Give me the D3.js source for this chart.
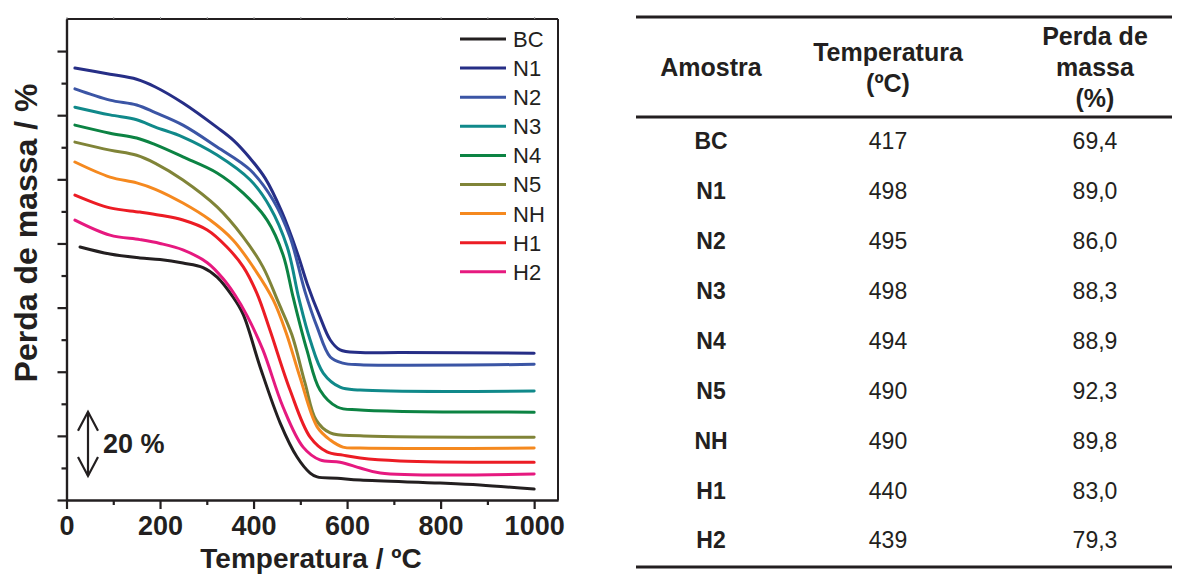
<!DOCTYPE html>
<html>
<head>
<meta charset="utf-8">
<script src="https://cdn.jsdelivr.net/npm/d3@7"></script>
<style>
  body { margin: 0; background: #fff; }
  svg { display: block; font-family: "Liberation Sans", Arial, sans-serif; }
  .ax path, .ax line { stroke: #231f20; stroke-width: 2.2; }
  .ax text { font-size: 27px; font-weight: bold; fill: #231f20; font-family: "Liberation Sans", Arial, sans-serif; }
</style>
</head>
<body>
<div id="chart"></div>
<script>
// TG curves: [temperature ºC, offset mass %]
const curveBC = [[29,78.9],[93,76.7],[157,75.5],[200,75.0],[249,73.9],[292,72.5],[322,69.5],[356,63.3],[378,57.8],[414,41.5],[457,24.0],[493,13.4],[521,8.4],[536,7.2],[579,6.8],[628,6.2],[799,5.3],[884,4.7],[1000,3.4]]
const curveN1 = [[18,134.7],[93,132.8],[150,131.2],[190,128.8],[249,123.8],[322,116.2],[356,112.3],[393,106.5],[425,100.3],[460,90],[493,77.3],[515,67.3],[542,57.1],[564,49.9],[585,46.8],[628,46.0],[713,46.0],[1000,45.8]]
const curveN2 = [[18,128.2],[93,124.7],[150,123.2],[190,120.8],[249,116.9],[322,110.1],[393,102.9],[442,93.5],[478,82.0],[510,65],[536,53.9],[564,44.6],[591,42.7],[628,42.2],[1000,42.3]]
const curveN3 = [[18,122.5],[93,120.1],[150,118.6],[190,116.3],[249,113.2],[322,107.6],[393,99.8],[435,91.4],[472,78.9],[497,62.8],[521,49.9],[549,39.6],[585,35.2],[628,34.3],[1000,34.0]]
const curveN4 = [[18,116.9],[93,114.4],[150,112.9],[190,110.8],[249,107.0],[322,102.0],[378,95.7],[429,87.3],[463,76.5],[485,63],[514,46.8],[542,34.3],[579,29.0],[628,28.1],[1000,27.4]]
const curveN5 = [[18,111.6],[93,109.1],[150,107.5],[190,105.0],[249,99.8],[322,91.4],[378,82.0],[420,72.7],[452,62.0],[482,51.5],[510,36.5],[534,24.9],[564,20.9],[628,20.0],[1000,19.6]]
const curveNH = [[18,105.4],[93,100.7],[150,98.9],[190,96.9],[249,92.6],[307,87.3],[356,81.1],[399,72.7],[442,62.4],[470,52],[499,38.4],[536,22.8],[564,18.7],[591,16.5],[628,16.2],[1000,16.2]]
const curveH1 = [[18,95.1],[93,91.1],[157,89.8],[200,88.8],[249,87.3],[301,84.2],[343,78.9],[378,72.7],[407,64.5],[435,53.0],[478,34.3],[521,19.6],[557,15.0],[591,14.0],[628,13.1],[713,12.2],[1000,11.8]]
const curveH2 = [[18,87.3],[93,82.6],[157,81.2],[200,80.0],[249,78.0],[301,74],[335,69],[360,64],[386,57.5],[420,46.8],[463,29.0],[506,16.5],[542,12.5],[585,11.8],[628,10.0],[671,8.4],[1000,8.1]]

const sampleNames = ["BC", "N1", "N2", "N3", "N4", "N5", "NH", "H1", "H2"]
const curves = [curveBC, curveN1, curveN2, curveN3, curveN4, curveN5, curveNH, curveH1, curveH2]
const colors = ["#231f20", "#262e86", "#3b55a5", "#10898a", "#0c8343", "#808438", "#f5891f", "#ec1c24", "#e6197f"]

const xMajor = [0, 200, 400, 600, 800, 1000]
const xMinor = [100, 300, 500, 700, 900]
const yMajor = [0, 20, 40, 60, 80, 100, 120, 140]
const yMinor = [10, 30, 50, 70, 90, 110, 130]

// table
const tableHeaders = [["Amostra"], ["Temperatura", "(ºC)"], ["Perda de", "massa", "(%)"]]
const tableTemps = [417, 498, 495, 498, 494, 490, 490, 440, 439]
const tableLoss = [69.4, 89.0, 86.0, 88.3, 88.9, 92.3, 89.8, 83.0, 79.3]

const W = 1185, H = 574
const svg = d3.select('#chart').append('svg')
  .attr('width', W)
  .attr('height', H)

const pLeft = 66.5, pRight = 558, pTop = 19, pBottom = 500

let x = d3.scaleLinear().domain([0, 1051]).range([pLeft, pRight])
let y = d3.scaleLinear().domain([0, 150]).range([pBottom, pTop])

// frame top / right
svg.append('line').attr('x1', pLeft).attr('x2', pRight).attr('y1', pTop).attr('y2', pTop)
  .attr('stroke', '#231f20').attr('stroke-width', 2)
svg.append('line').attr('x1', pRight).attr('x2', pRight).attr('y1', pTop).attr('y2', pBottom)
  .attr('stroke', '#231f20').attr('stroke-width', 2)

svg.append('g').attr('transform', `translate(0,${pTop})`)
  .call(d3.axisTop(x).tickValues(xMajor.concat(xMinor)).tickSize(2).tickSizeOuter(0).tickFormat(''))
  .call(g => g.selectAll('line').attr('stroke', '#9a9a9a').attr('stroke-width', 1))
  .call(g => g.select('.domain').remove())

// bottom axis
svg.append('g').attr('class', 'ax').attr('transform', `translate(0,${pBottom})`)
  .call(d3.axisBottom(x).tickValues(xMajor).tickSize(9).tickPadding(7).tickSizeOuter(0).tickFormat(d3.format('d')))
svg.append('g').attr('class', 'ax').attr('transform', `translate(0,${pBottom})`)
  .call(d3.axisBottom(x).tickValues(xMinor).tickSize(5).tickSizeOuter(0).tickFormat(''))

// left axis (no labels)
svg.append('g').attr('class', 'ax').attr('transform', `translate(${pLeft},0)`)
  .call(d3.axisLeft(y).tickValues(yMajor).tickSize(9).tickSizeOuter(0).tickFormat(''))
svg.append('g').attr('class', 'ax').attr('transform', `translate(${pLeft},0)`)
  .call(d3.axisLeft(y).tickValues(yMinor).tickSize(5).tickSizeOuter(0).tickFormat(''))

let line = d3.line()
  .x(d => x(d[0]))
  .y(d => y(d[1]))
  .curve(d3.curveCatmullRom.alpha(0.5))

svg.append('g').selectAll('path')
  .data(curves)
  .enter()
  .append('path')
  .attr('d', line)
  .attr('fill', 'none')
  .attr('stroke', (d, i) => colors[i])
  .attr('stroke-width', 3)
  .attr('stroke-linejoin', 'round')
  .attr('stroke-linecap', 'round')

// legend
let legend = svg.append('g').selectAll('g')
  .data(sampleNames)
  .enter()
  .append('g')
  .attr('transform', (d, i) => `translate(460,${39 + i * 29.1})`)

legend.append('line')
  .attr('x1', 0).attr('x2', 46)
  .attr('stroke', (d, i) => colors[i])
  .attr('stroke-width', 3)

legend.append('text')
  .attr('x', 53)
  .attr('dy', '0.36em')
  .attr('font-size', 22)
  .attr('fill', '#231f20')
  .text(d => d)

// 20 % scale bar
let ax = 88, y1 = y(27.5), y2 = y(7.5)
let bar = svg.append('g').attr('stroke', '#231f20').attr('stroke-width', 2.2).attr('fill', 'none')
bar.append('line').attr('x1', ax).attr('x2', ax).attr('y1', y1).attr('y2', y2)
bar.append('path').attr('d', `M${ax - 10},${y1 + 19}L${ax},${y1}L${ax + 10},${y1 + 19}`)
bar.append('path').attr('d', `M${ax - 10},${y2 - 19}L${ax},${y2}L${ax + 10},${y2 - 19}`)
svg.append('text')
  .attr('x', 103).attr('y', 453)
  .attr('font-size', 27).attr('font-weight', 'bold').attr('fill', '#231f20')
  .text('20 %')

// axis titles
svg.append('text')
  .attr('x', 311).attr('y', 568)
  .attr('text-anchor', 'middle')
  .attr('font-size', 28).attr('font-weight', 'bold').attr('fill', '#231f20')
  .text('Temperatura / ºC')

svg.append('text')
  .attr('transform', 'translate(37,233) rotate(-90)')
  .attr('text-anchor', 'middle')
  .attr('font-size', 32).attr('font-weight', 'bold').attr('fill', '#231f20')
  .text('Perda de massa / %')

// table
const tx0 = 636, tx1 = 1172
const colX = [711, 888, 1095]
let table = svg.append('g')

;[17, 117, 567].forEach(ly => {
  table.append('line').attr('x1', tx0).attr('x2', tx1).attr('y1', ly).attr('y2', ly)
    .attr('stroke', '#231f20').attr('stroke-width', 3.2)
})

const headerCenter = 67, headerStep = 31
tableHeaders.forEach((lines, c) => {
  lines.forEach((t, k) => {
    table.append('text')
      .attr('x', colX[c])
      .attr('y', headerCenter + (k - (lines.length - 1) / 2) * headerStep)
      .attr('dy', '0.36em')
      .attr('text-anchor', 'middle')
      .attr('font-size', 25).attr('font-weight', 'bold').attr('fill', '#231f20')
      .text(t)
  })
})

let rows = table.selectAll('g.row')
  .data(sampleNames)
  .enter()
  .append('g')
  .attr('class', 'row')
  .attr('transform', (d, i) => `translate(0,${141 + i * 49.9})`)

rows.append('text').attr('x', colX[0]).attr('dy', '0.36em').attr('text-anchor', 'middle')
  .attr('font-size', 23).attr('font-weight', 'bold').attr('fill', '#231f20')
  .text(d => d)
rows.append('text').attr('x', colX[1]).attr('dy', '0.36em').attr('text-anchor', 'middle')
  .attr('font-size', 23).attr('fill', '#231f20')
  .text((d, i) => tableTemps[i])
rows.append('text').attr('x', colX[2]).attr('dy', '0.36em').attr('text-anchor', 'middle')
  .attr('font-size', 23).attr('fill', '#231f20')
  .text((d, i) => tableLoss[i].toFixed(1).replace('.', ','))
</script>
</body>
</html>
